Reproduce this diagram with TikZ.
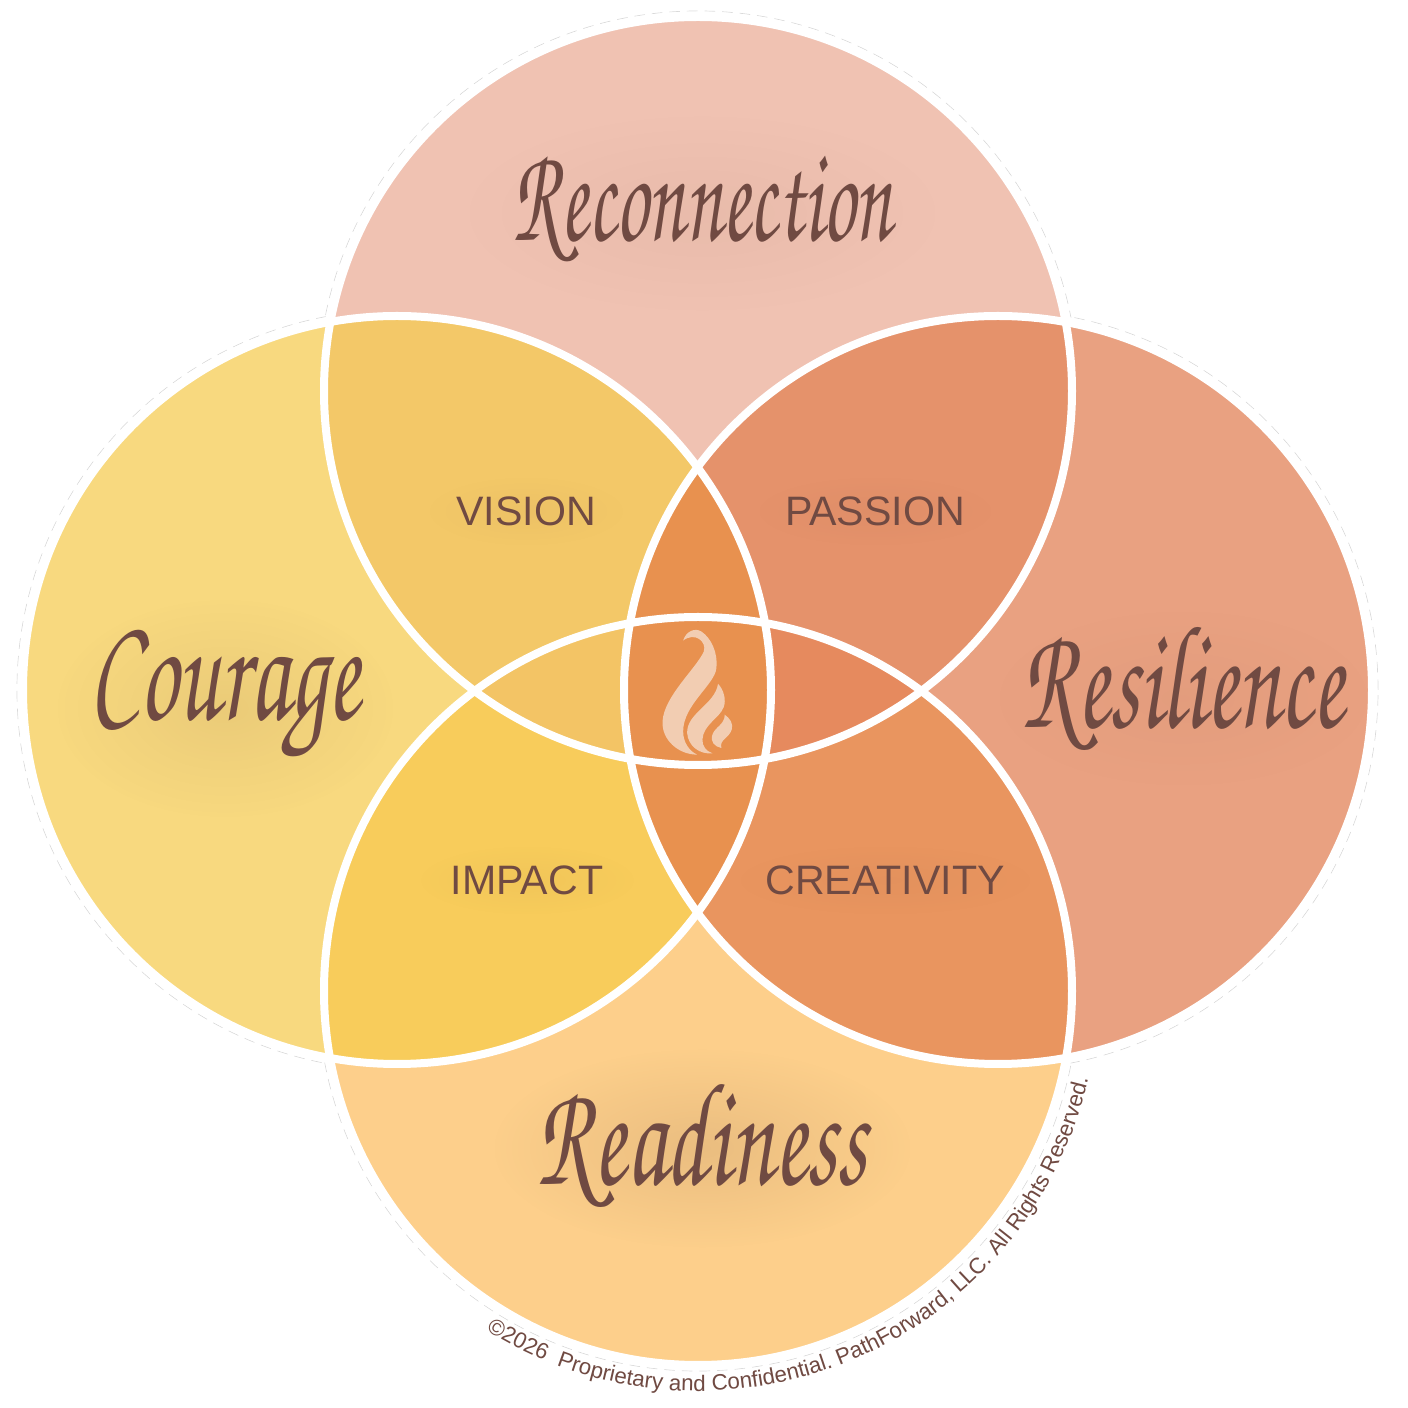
\documentclass[tikz,border=0pt]{standalone}
\usepackage[T1,TU]{fontenc}
\usepackage{fontspec}
\setmainfont{Liberation Sans}
\usepackage{xcolor}
\usepackage{tikz}
\usetikzlibrary{calc, fadings, decorations.text}
\definecolor{reconpink}{RGB}{240,194,178}
\definecolor{courageyellow}{RGB}{248,217,127}
\definecolor{resilorange}{RGB}{233,161,129}
\definecolor{readypeach}{RGB}{253,207,139}
\definecolor{visiongold}{RGB}{243,200,104}
\definecolor{passionred}{RGB}{229,146,107}
\definecolor{impactgold}{RGB}{248,204,91}
\definecolor{creatorange}{RGB}{233,149,95}
\definecolor{lensleft}{RGB}{243,196,101}
\definecolor{lensright}{RGB}{230,138,94}
\definecolor{centerorange}{RGB}{232,145,79}
\definecolor{flamelight}{RGB}{242,205,178}
\definecolor{inkbrown}{RGB}{112,74,66}
\definecolor{hazebrown}{RGB}{120,80,60}
\newcommand{\handfont}{\fontencoding{T1}\fontfamily{pzc}\fontseries{m}\fontshape{it}\selectfont}
\tikzfading[name=softhaze, inner color=transparent!0, outer color=transparent!100]
\tikzset{
  ring/.style={draw=white, line width=0.08cm},
  scriptword/.style={font=\handfont, text=inkbrown, inner sep=0pt},
  capword/.style={font=\fontsize{11.7}{13}\selectfont, text=inkbrown, inner sep=0pt},
  haze/.style={fill=hazebrown, path fading=softhaze},
}
\def\rad{3.74}

\begin{document}
\begin{tikzpicture}
  \useasboundingbox (0,0) rectangle (14.08,14.08);
  \fill[white] (0,0) rectangle (14.08,14.08);
  \coordinate (topc) at (6.98,10.17);
  \coordinate (botc) at (6.98,4.17);
  \coordinate (leftc) at (3.97,7.18);
  \coordinate (rightc) at (9.98,7.18);

  % faint outer line, then the four discs
  \foreach \c in {topc,botc,leftc,rightc}
    \draw[gray!30, line width=0.2pt, densely dashed] (\c) circle[radius=3.80];
  \foreach \c in {topc,botc,leftc,rightc}
    \fill[white] (\c) circle[radius=3.795];
  \foreach \c/\col in {topc/reconpink,botc/readypeach,leftc/courageyellow,rightc/resilorange}
    \fill[\col] (\c) circle[radius=\rad];

  % overlaps of two
  \foreach \a/\b/\col in {topc/leftc/visiongold,topc/rightc/passionred,
                          botc/leftc/impactgold,botc/rightc/creatorange}{
    \begin{scope}
      \clip (\a) circle[radius=\rad];
      \fill[\col] (\b) circle[radius=\rad];
    \end{scope}
  }
  % overlaps of three
  \foreach \a/\b/\c/\col in {leftc/rightc/topc/centerorange,leftc/rightc/botc/centerorange,
                             topc/botc/leftc/lensleft,topc/botc/rightc/lensright}{
    \begin{scope}
      \clip (\a) circle[radius=\rad];
      \clip (\b) circle[radius=\rad];
      \fill[\col] (\c) circle[radius=\rad];
    \end{scope}
  }
  % middle
  \begin{scope}
    \clip (topc) circle[radius=\rad];
    \clip (botc) circle[radius=\rad];
    \clip (leftc) circle[radius=\rad];
    \fill[centerorange] (rightc) circle[radius=\rad];
  \end{scope}

  \foreach \c in {topc,botc,leftc,rightc}
    \draw[ring] (\c) circle[radius=\rad];

  % flame
  \begin{scope}[shift={(6,8.18)}, x=0.003333cm, y=-0.003333cm]
    \fill[flamelight] (250,152) .. controls (258,125) and (285,112) .. (305,125)
      .. controls (335,145) and (355,190) .. (350,235)
      .. controls (345,285) and (250,345) .. (250,425)
      .. controls (250,460) and (270,485) .. (292,495)
      .. controls (235,495) and (185,450) .. (188,395)
      .. controls (192,320) and (290,235) .. (312,185)
      .. controls (322,155) and (285,125) .. (250,152) -- cycle;
    \fill[flamelight] (355,282) .. controls (372,300) and (380,330) .. (372,352)
      .. controls (360,385) and (310,405) .. (308,450)
      .. controls (307,470) and (320,485) .. (338,491)
      .. controls (300,495) and (265,470) .. (262,430)
      .. controls (260,370) and (345,345) .. (355,282) -- cycle;
    \fill[flamelight] (375,375) .. controls (390,385) and (402,402) .. (396,420)
      .. controls (388,445) and (358,450) .. (365,475)
      .. controls (345,472) and (330,455) .. (338,435)
      .. controls (345,412) and (375,405) .. (375,375) -- cycle;
  \end{scope}

  % soft haze behind the words
  \fill[haze, opacity=.06] (7.02,11.95) ellipse[x radius=2.4, y radius=1.0];
  \fill[haze, opacity=.1] (2.25,7.0) ellipse[x radius=1.7, y radius=1.1];
  \fill[haze, opacity=.05] (11.83,7.10) ellipse[x radius=1.9, y radius=0.9];
  \fill[haze, opacity=.14] (7.02,2.60) ellipse[x radius=2.1, y radius=1.0];
  \foreach \x/\y/\w in {5.26/8.97/1.0,8.75/8.97/1.2,5.27/5.28/1.1,8.85/5.28/1.5}
    \fill[haze, opacity=.05] (\x,\y) ellipse[x radius=\w, y radius=0.35];

  \node[scriptword, xscale=2.3, yscale=3.9] (recon) at (7.02,12.00) {Reconnection};
  \node[scriptword, xscale=2.7, yscale=4.3] (courage) at (2.25,7.12) {Courage};
  \node[scriptword, xscale=2.65, yscale=4.2] (resil) at (11.83,7.20) {Resilience};
  \node[scriptword, xscale=2.7, yscale=4.2] (ready) at (7.02,2.63) {Readiness};

  \node[capword] (vision) at (5.26,8.97) {VISION};
  \node[capword] (passion) at (8.75,8.97) {PASSION};
  \node[capword] (impact) at (5.27,5.28) {IMPACT};
  \node[capword] (creat) at (8.85,5.28) {CREATIVITY};

  % copyright along the lower disc
  \path[decorate, decoration={text along path, text color=inkbrown, text align=left,
      text={|\fontsize{6.35}{8}\selectfont|©2026~~Proprietary and Confidential. PathForward, LLC. All Rights Reserved.}}]
    ($(botc)+(238:4.00)$) arc[start angle=238, end angle=356, radius=4.00];
\end{tikzpicture}
\end{document}
